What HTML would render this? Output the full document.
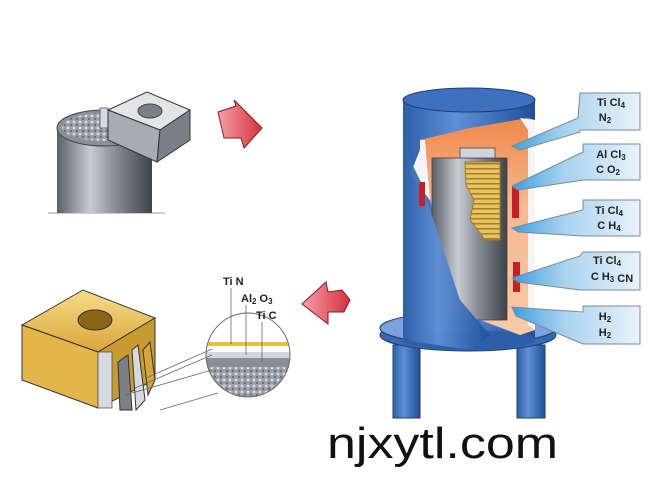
<!DOCTYPE html>
<html><head><meta charset="utf-8"><style>
html,body{margin:0;padding:0;background:#fff;}
svg{display:block;}
text{font-family:"Liberation Sans",Arial,sans-serif;}
</style></head><body>
<svg width="650" height="488" viewBox="0 0 650 488" xmlns="http://www.w3.org/2000/svg">
<defs>
<linearGradient id="steel" x1="0" x2="1">
<stop offset="0" stop-color="#5a6068"/><stop offset="0.35" stop-color="#c9ccd2"/><stop offset="0.6" stop-color="#8a8f98"/><stop offset="1" stop-color="#3e434a"/></linearGradient>
<linearGradient id="blue" x1="0" x2="1">
<stop offset="0" stop-color="#2d5fa8"/><stop offset="0.4" stop-color="#5f8fd6"/><stop offset="1" stop-color="#1f4f9a"/></linearGradient>
<linearGradient id="orange" x1="0" y1="0" x2="0" y2="1">
<stop offset="0" stop-color="#f0884a"/><stop offset="0.4" stop-color="#f6b890"/><stop offset="1" stop-color="#f8caa8"/></linearGradient>
<linearGradient id="callout" x1="1" x2="0">
<stop offset="0" stop-color="#e9f3fa"/><stop offset="0.6" stop-color="#a7d2ee"/><stop offset="1" stop-color="#3b9fe0"/></linearGradient>
<linearGradient id="red" x1="0" x2="1">
<stop offset="0" stop-color="#f2a0a8"/><stop offset="1" stop-color="#d8303e"/></linearGradient>
<linearGradient id="gold" x1="0" y1="0" x2="0" y2="1">
<stop offset="0" stop-color="#f6dd8a"/><stop offset="1" stop-color="#d9a53a"/></linearGradient>
<pattern id="stripes" width="6" height="5" patternUnits="userSpaceOnUse">
<rect width="6" height="5" fill="#e8c460"/><rect y="3" width="6" height="1.5" fill="#a47f2a"/></pattern>
<pattern id="grain" width="6" height="6" patternUnits="userSpaceOnUse">
<rect width="6" height="6" fill="#9a9ea6"/><circle cx="2" cy="2" r="1.4" fill="#d8dbe0"/><circle cx="5" cy="5" r="1.2" fill="#6c7078"/></pattern>
</defs>

<!-- top-left cylinder -->
<line x1="48" y1="213" x2="165" y2="213" stroke="#999" stroke-width="1"/>
<rect x="57" y="128" width="95" height="85" fill="url(#steel)"/>
<ellipse cx="104" cy="128" rx="47" ry="18" fill="#8b9098" stroke="#444" stroke-width="1"/>
<ellipse cx="104" cy="127" rx="42" ry="14" fill="url(#grain)"/>
<rect x="100" y="108" width="8" height="20" fill="#d7dadf" stroke="#555" stroke-width="0.8"/>
<!-- insert -->
<polygon points="108,110 147,92 190,110 160,130" fill="#e2e4e8" stroke="#333" stroke-width="1"/>
<polygon points="108,110 160,130 157,162 108,140" fill="#a7abb2" stroke="#333" stroke-width="1"/>
<polygon points="160,130 190,110 190,140 157,162" fill="#7b8088" stroke="#333" stroke-width="1"/>
<ellipse cx="150" cy="111" rx="12" ry="7" fill="#7b8088" stroke="#444"/>
<!-- red arrow top -->
<polygon points="218,112 236,106 234,100 262,128 244,148 241,138 224,138" fill="url(#red)" stroke="#8a1a24" stroke-width="1"/>

<!-- furnace legs -->
<rect x="393" y="345" width="27" height="73" fill="url(#blue)" stroke="#1e3e70"/>
<rect x="517" y="345" width="28" height="73" fill="url(#blue)" stroke="#1e3e70"/>
<!-- base disc -->
<ellipse cx="468" cy="335" rx="88" ry="16" fill="#3a67b0" stroke="#1e3e70"/>
<ellipse cx="468" cy="328" rx="88" ry="16" fill="#7aa2dc" stroke="#1e3e70"/>
<!-- outer cylinder -->
<rect x="403" y="100" width="132" height="240" fill="url(#blue)"/>
<ellipse cx="469" cy="340" rx="66" ry="10" fill="#2d5fa8"/>
<ellipse cx="469" cy="100" rx="66" ry="12" fill="#3f6fbf" stroke="#1e3e70"/>
<!-- cutout -->
<polygon points="420,140 470,128 528,118 535,120 535,330 520,335 480,320 450,265 430,200 410,175 420,150" fill="url(#orange)"/>
<polygon points="410,175 420,150 420,140 425,140 430,200" fill="#f5f5f8"/>
<polygon points="520,118 535,120 535,330 528,325 528,130" fill="#f5f5f8"/>
<!-- inner cylinder -->
<rect x="432" y="158" width="75" height="162" fill="url(#steel)" stroke="#444" stroke-width="0.8"/>
<path d="M465,162 L500,162 L500,240 L485,240 L478,230 L470,220 L474,200 L466,185 Z" fill="url(#stripes)" stroke="#a47f2a"/>
<rect x="460" y="148" width="35" height="10" fill="#d0d3d8" stroke="#444" stroke-width="0.8"/>
<!-- blue front cut edge redraw -->
<polygon points="403,100 403,340 470,350 490,335 460,300 440,240 420,180 410,160" fill="url(#blue)" opacity="0.95"/>
<!-- red heaters -->
<rect x="419" y="182" width="6" height="24" fill="#c8202a"/>
<rect x="512" y="186" width="7" height="32" fill="#c8202a"/>
<rect x="513" y="262" width="7" height="30" fill="#c8202a"/>

<!-- callouts -->
<g stroke="#7a8a98" stroke-width="1" fill="url(#callout)">
<polygon points="640,93 580,93 578,118 512,146 520,150 580,132 580,130 640,130"/>
<polygon points="640,144 583,144 583,152 512,186 518,190 583,180 640,180"/>
<polygon points="640,200 583,200 583,210 512,228 518,232 583,236 640,236"/>
<polygon points="640,252 583,252 580,256 512,278 518,282 580,290 640,290"/>
<polygon points="640,306 583,306 583,312 512,307 516,316 583,344 640,344"/>
</g>
<g font-size="11" font-weight="bold" fill="#222" text-anchor="middle">
<text x="611" y="106">Ti Cl<tspan font-size="8" dy="2">4</tspan></text><text x="605" y="121">N<tspan font-size="8" dy="2">2</tspan></text>
<text x="611" y="158">Al Cl<tspan font-size="8" dy="2">3</tspan></text><text x="608" y="173">C O<tspan font-size="8" dy="2">2</tspan></text>
<text x="609" y="214">Ti Cl<tspan font-size="8" dy="2">4</tspan></text><text x="609" y="229">C H<tspan font-size="8" dy="2">4</tspan></text>
<text x="607" y="264">Ti Cl<tspan font-size="8" dy="2">4</tspan></text><text x="612" y="280">C H<tspan font-size="8" dy="2">3</tspan> CN</text>
<text x="605" y="320">H<tspan font-size="8" dy="2">2</tspan></text><text x="605" y="336">H<tspan font-size="8" dy="2">2</tspan></text>
</g>

<!-- red arrow bottom -->
<polygon points="302,304 326,282 328,292 342,290 350,300 344,312 328,312 328,324" fill="url(#red)" stroke="#8a1a24" stroke-width="1"/>

<!-- bottom insert -->
<polygon points="22,325 83,290 155,318 98,352" fill="url(#gold)" stroke="#333"/>
<polygon points="22,325 98,352 98,408 22,380" fill="#e3b54a" stroke="#333"/>
<polygon points="98,352 155,318 155,380 98,408" fill="#c99a30" stroke="#333"/>
<ellipse cx="95" cy="320" rx="17" ry="10" fill="#8a6518" stroke="#333"/>
<rect x="98" y="352" width="14" height="56" fill="#d6d9e0" stroke="#555" stroke-width="0.8"/>
<polygon points="118,362 128,355 132,410 120,410" fill="#7b8088" stroke="#333"/>
<polygon points="132,350 138,345 145,400 136,410" fill="#d6d9e0" stroke="#333"/>
<polygon points="143,350 150,342 155,380 148,395" fill="#d9a53a" stroke="#333"/>
<!-- circle detail -->
<clipPath id="cc"><circle cx="248" cy="355" r="42"/></clipPath>
<g clip-path="url(#cc)">
<rect x="200" y="310" width="100" height="90" fill="#fff"/>
<rect x="200" y="342" width="100" height="4" fill="#e5c23a"/>
<rect x="200" y="346" width="100" height="6" fill="#fff"/>
<rect x="200" y="352" width="100" height="6" fill="#d4d4e0"/>
<rect x="200" y="358" width="100" height="9" fill="#8a8e96"/>
<rect x="200" y="367" width="100" height="40" fill="url(#grain)"/>
</g>
<circle cx="248" cy="355" r="42" fill="none" stroke="#666"/>
<g stroke="#666" stroke-width="0.8">
<line x1="231" y1="288" x2="231" y2="344"/><line x1="246" y1="305" x2="246" y2="355"/><line x1="262" y1="322" x2="262" y2="362"/>
<line x1="146" y1="378" x2="212" y2="349"/><line x1="135" y1="388" x2="212" y2="355"/><line x1="125" y1="395" x2="212" y2="370"/><line x1="160" y1="410" x2="218" y2="393"/>
</g>
<g font-size="11" font-weight="bold" fill="#222">
<text x="223" y="285">Ti N</text>
<text x="241" y="302">Al<tspan font-size="8" dy="2">2</tspan><tspan dy="-2"> O</tspan><tspan font-size="8" dy="2">3</tspan></text>
<text x="256" y="319">Ti C</text>
</g>

<text x="327" y="458" font-size="44" fill="#111" textLength="231" lengthAdjust="spacingAndGlyphs">njxytl.com</text>
</svg>
</body></html>
